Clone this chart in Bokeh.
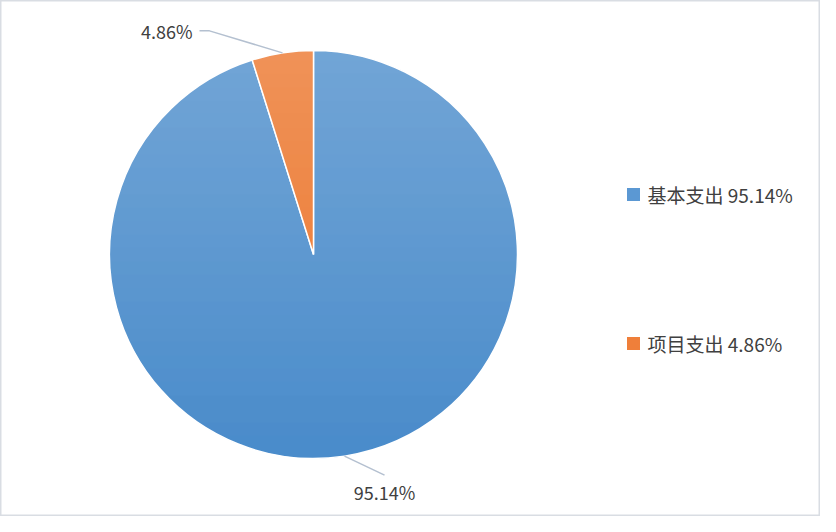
import numpy as np
from bokeh.plotting import figure
from bokeh.models import Range1d
from bokeh.embed import file_html
from bokeh.resources import INLINE
from bokeh.core.properties import value

# ---- data ----
categories = ["基本支出", "项目支出"]
shares = [95.14, 4.86]
pct_labels = ["95.14%", "4.86%"]
slice_colors = ["#4a8ccb", "#ec7429"]
legend_colors = ["#5b98d3", "#ef7f3a"]

FONT = value("Noto Sans CJK SC")
TEXT_COLOR = "#404040"

W, H = 820, 516
p = figure(width=W, height=H, x_range=Range1d(0, W), y_range=Range1d(0, H),
           output_backend="svg", toolbar_location=None, min_border=0)
p.xaxis.visible = False
p.yaxis.visible = False
p.grid.visible = False
p.outline_line_color = "#d9dde3"
p.outline_line_width = 2
p.background_fill_color = "white"
p.border_fill_color = "white"

# pie geometry (layout)
cx, cy, r = 313, 262, 204
frac = np.array(shares) / sum(shares)
cum = np.concatenate([[0.0], np.cumsum(frac)])
start = np.pi / 2 - 2 * np.pi * cum[:-1]
end = np.pi / 2 - 2 * np.pi * cum[1:]
mid = (start + end) / 2

p.wedge(x=cx, y=cy, radius=r, start_angle=start, end_angle=end,
        direction="clock", fill_color=slice_colors,
        line_color="white", line_width=1.5)

# vertical light-to-dark gradient overlay (white, fading toward bottom)
ys = np.arange(cy - r - 1, cy + r + 1)
alphas = 0.24 * (ys - (cy - r - 1)) / (2 * r + 2)
p.quad(left=cx - r - 2, right=cx + r + 2, bottom=ys, top=ys + 1,
       fill_color="white", fill_alpha=alphas, line_color=None)

# leader lines and data labels
ox = cx + r * np.cos(mid)
oy = cy + r * np.sin(mid)
LINE_COLOR = "#b4c0d0"
# slice 0 (blue): label below right
p.line(x=[ox[0], ox[0] + 40], y=[oy[0], oy[0] - 19], line_color=LINE_COLOR, line_width=1.5)
p.text(x=[ox[0] + 40], y=[oy[0] - 36], text=[pct_labels[0]], text_font=FONT,
       text_font_size="18px", text_color=TEXT_COLOR, text_align="center",
       text_baseline="middle")
# slice 1 (orange): label upper left
p.line(x=[ox[1], ox[1] - 73, ox[1] - 83], y=[oy[1], oy[1] + 22, oy[1] + 22],
       line_color=LINE_COLOR, line_width=1.5)
p.text(x=[ox[1] - 90], y=[oy[1] + 22], text=[pct_labels[1]], text_font=FONT,
       text_font_size="18px", text_color=TEXT_COLOR, text_align="right",
       text_baseline="middle")

# legend
lx, ly0, lstep = 633, 322, 149
leg_y = [ly0 - i * lstep for i in range(len(categories))]
p.scatter(x=[lx] * len(categories), y=leg_y, marker="square", size=13,
          fill_color=legend_colors, line_color=None)
p.text(x=[lx + 14] * len(categories), y=leg_y,
       text=[f"{c} {s}" for c, s in zip(categories, pct_labels)],
       text_font=FONT, text_font_size="19px", text_color=TEXT_COLOR,
       text_align="left", text_baseline="middle")

open("out.html", "w").write(file_html(p, INLINE))
